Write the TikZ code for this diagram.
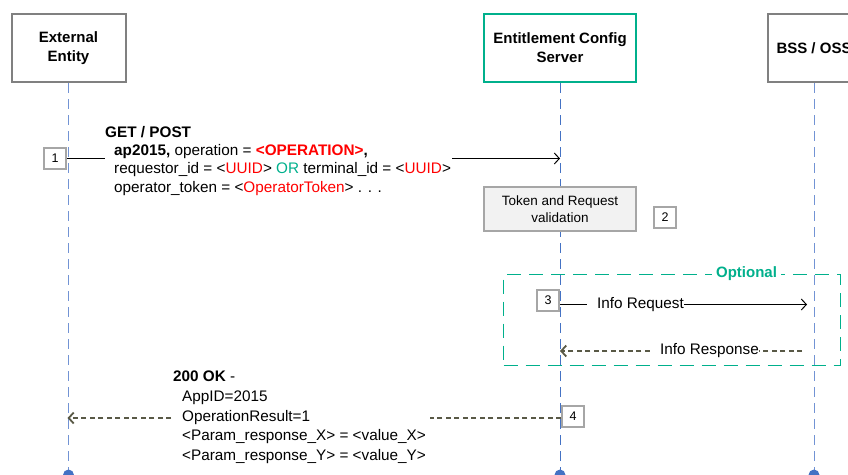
\documentclass[tikz,border=0pt]{standalone}
\usepackage{fontspec}
\setmainfont{Liberation Sans}
\usepackage{tikz}
\usetikzlibrary{arrows.meta, positioning, calc}
\usepackage{xcolor}
\definecolor{boxgray}{RGB}{128,128,128}
\definecolor{numgray}{RGB}{166,166,166}
\definecolor{valfill}{RGB}{242,242,242}
\definecolor{ecsgreen}{RGB}{0,176,140}
\definecolor{lifeblue}{RGB}{114,147,212}
\definecolor{dotblue}{RGB}{68,114,196}
\definecolor{replyolive}{RGB}{89,89,70}
\definecolor{cfgred}{RGB}{255,0,0}

\begin{document}
\begin{tikzpicture}[x=1pt, y=1pt,
    actor/.style={draw=boxgray, line width=2pt, fill=white, minimum width=114pt,
      minimum height=68pt, align=center, font=\fontsize{15}{19}\selectfont\bfseries},
    lifeline/.style={line width=1pt, dash pattern=on 10pt off 6pt},
    numbox/.style={draw=numgray, line width=2pt, fill=white, minimum width=22pt,
      minimum height=21pt, inner sep=0pt, font=\fontsize{12.5}{14}\selectfont},
    valbox/.style={draw=numgray, line width=1.2pt, fill=valfill, minimum width=152pt,
      minimum height=44pt, align=center, font=\fontsize{13.5}{17}\selectfont},
    optframe/.style={draw=ecsgreen, line width=1.5pt, dash pattern=on 14pt off 8pt,
      minimum width=337pt, minimum height=91pt},
    msgtext/.style={inner sep=0pt, align=left, font=\fontsize{15.3}{18.3}\selectfont},
    request/.style={line width=1pt, -{Straight Barb[length=5pt,width=11pt]}},
    reply/.style={draw=replyolive, line width=1.8pt, dash pattern=on 5pt off 3.5pt},
    replyhead/.style={-{Straight Barb[length=5pt,width=11pt]}},
  ]
  \useasboundingbox (0,0) rectangle (848,-474);

  % lifeline heads
  \node[actor] (ext) at (68.5,-48) {External\\Entity};
  \node[actor, draw=ecsgreen, minimum width=152pt] (ecs) at (560,-48) {Entitlement Config\\Server};
  \node[actor, minimum width=92pt] (bss) at (814,-48) {BSS / OSS};

  % lifelines
  \foreach \who/\col in {ext/lifeblue, ecs/dotblue, bss/lifeblue} {
    \draw[lifeline, \col] (\who.south) -- (\who.south |- 0,-474);
    \fill[dotblue] (\who.south |- 0,-475) circle (5.5pt);
  }

  % 1 - request
  \node[numbox] (n1) at (55,-158.5) {1};
  \node[msgtext, anchor=north west] (m1) at (105,-126) {\textbf{GET / POST}\\
    \hspace*{9pt}\textbf{ap2015,} operation = \textcolor{cfgred}{\textbf{<OPERATION>}}\textbf{,}\\
    \hspace*{9pt}requestor\_id = <\textcolor{cfgred}{UUID}> \textcolor{ecsgreen}{OR} terminal\_id = <\textcolor{cfgred}{UUID}>\\
    \hspace*{9pt}operator\_token = <\textcolor{cfgred}{OperatorToken}> . . .};
  \draw[line width=1pt] (n1.east) -- (m1.west |- n1.east);
  \draw[request] ($(m1.east |- n1.east)+(1,0)$) -- (ecs.south |- n1.east);

  % 2 - validation
  \node[valbox] (val) at (560,-209) {Token and Request\\validation};
  \node[numbox] (n2) at (665,-217) {2};

  % optional block
  \node[optframe] (opt) at (672,-320) {};
  \node[fill=white, text=ecsgreen, inner xsep=4pt, inner ysep=1pt,
    font=\fontsize{15}{18}\selectfont\bfseries] (optlbl) at ($(opt.north)+(74.5,0)$) {Optional};

  % 3 - info request / response
  \node[numbox] (n3) at (548,-300.5) {3};
  \coordinate (q3) at ($(n3.east)+(0,-4)$);
  \node[msgtext] (ireq) at (q3 -| 640.5,0) {Info Request};
  \draw[line width=1pt] (q3) -- ($(ireq.west)+(-10,0)$);
  \draw[request] (ireq.east) -- ($(bss.south |- ireq)+(-7,0)$);

  \node[msgtext] (irsp) at (709.5,-351) {Info Response};
  \draw[reply, replyhead] ($(irsp.west)+(-10,0)$) -- (ecs.south |- irsp);
  \draw[reply] ($(bss.south |- irsp)+(-12,0)$) -- (irsp.east);

  % 4 - response
  \node[numbox] (n4) at (573,-416) {4};
  \coordinate (q4) at ($(n4.west)+(0,-2)$);
  \node[msgtext, font=\fontsize{15.3}{19.7}\selectfont, anchor=north west] (m4) at (173,-371) {\textbf{200 OK} -\\
    \hspace*{9pt}AppID=2015\\
    \hspace*{9pt}OperationResult=1\\
    \hspace*{9pt}<Param\_response\_X> = <value\_X>\\
    \hspace*{9pt}<Param\_response\_Y> = <value\_Y>};
  \draw[reply] (q4) -- ($(m4.east |- q4)+(4,0)$);
  \draw[reply, replyhead] ($(m4.west |- q4)+(-2,0)$) -- ($(ext.south |- q4)+(-1,0)$);
\end{tikzpicture}
\end{document}
